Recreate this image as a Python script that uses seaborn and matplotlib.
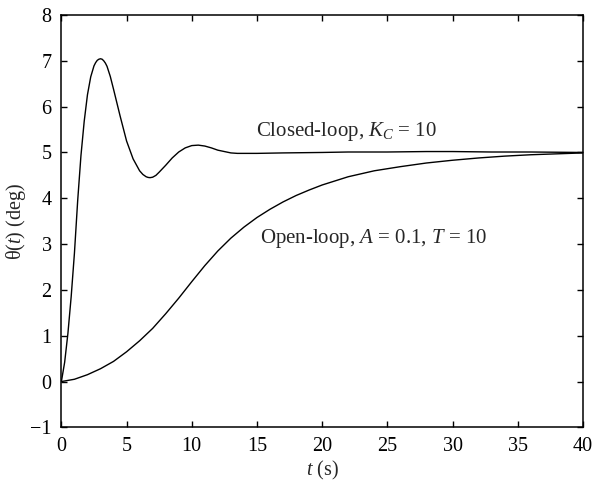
import numpy as np
import pandas as pd
import matplotlib
matplotlib.use("Agg")
import matplotlib.pyplot as plt
import seaborn as sns

# Closed-loop step response, K_C = 10
t_closed = [0, 0.25, 0.5, 0.75, 1.0, 1.25, 1.5, 1.75, 2.0, 2.25, 2.5, 2.625, 2.75,
            2.875, 3.0, 3.125, 3.25, 3.375, 3.5, 3.75, 4.0, 4.5, 5.0, 5.5, 6.0,
            6.25, 6.5, 6.65, 6.8, 7.0, 7.25, 7.5, 8.0, 8.5, 9.0, 9.5, 10.0, 10.5,
            11.0, 11.5, 12.0, 12.5, 13.0, 13.5, 14.0, 15.0, 17.0, 20.0, 22.0,
            25.0, 28.0, 30.0, 33.0, 36.0, 40.0]
theta_closed = [0, 0.42, 1.05, 1.85, 2.8, 3.95, 4.93, 5.68, 6.26, 6.65, 6.89, 6.96,
                7.01, 7.035, 7.045, 7.035, 7.0, 6.95, 6.88, 6.66, 6.38, 5.8, 5.25,
                4.86, 4.6, 4.52, 4.47, 4.455, 4.45, 4.46, 4.5, 4.57, 4.72, 4.88,
                5.01, 5.1, 5.15, 5.16, 5.14, 5.1, 5.05, 5.02, 4.99, 4.98, 4.98,
                4.98, 4.99, 5.0, 5.01, 5.01, 5.02, 5.02, 5.01, 5.01, 5.0]

# Open-loop step response, A = 0.1, T = 10
t_open = [0, 1, 2, 3, 4, 5, 6, 7, 8, 9, 10, 11, 12, 13, 14, 15, 16, 17, 18, 19,
          20, 22, 24, 26, 28, 30, 32, 34, 36, 38, 40]
theta_open = [0, 0.05, 0.15, 0.28, 0.44, 0.65, 0.89, 1.16, 1.48, 1.82, 2.18, 2.53,
              2.85, 3.13, 3.37, 3.58, 3.76, 3.92, 4.06, 4.18, 4.29, 4.47, 4.6, 4.69,
              4.77, 4.83, 4.88, 4.92, 4.95, 4.97, 4.99]

x_ticks = [0, 5, 10, 15, 20, 25, 30, 35, 40]
y_ticks = [-1, 0, 1, 2, 3, 4, 5, 6, 7, 8]

sns.set_theme(style="ticks")
plt.rcParams["font.family"] = ["Liberation Serif", "DejaVu Serif"]
plt.rcParams["mathtext.fontset"] = "custom"
plt.rcParams["mathtext.rm"] = "Liberation Serif"
plt.rcParams["mathtext.it"] = "Liberation Serif:italic"
plt.rcParams["axes.unicode_minus"] = True

closed = pd.DataFrame({"t": t_closed, "theta": theta_closed})
opened = pd.DataFrame({"t": t_open, "theta": theta_open})

fig = plt.figure(figsize=(5.96, 4.84), dpi=100)
ax = fig.add_axes([0.103, 0.117, 0.875, 0.852])

sns.lineplot(data=closed, x="t", y="theta", ax=ax, color="black", lw=1.0,
             estimator=None, sort=False)
sns.lineplot(data=opened, x="t", y="theta", ax=ax, color="black", lw=1.0,
             estimator=None, sort=False)

ax.set_xlim(0, 40)
ax.set_ylim(-1, 8)
ax.set_xticks(x_ticks)
ax.set_yticks(y_ticks)
ax.set_xticklabels([str(v) for v in x_ticks])
ax.set_yticklabels([("\u2212" + str(-v)) if v < 0 else str(v) for v in y_ticks])

for side in ["top", "right", "left", "bottom"]:
    ax.spines[side].set_visible(True)
    ax.spines[side].set_linewidth(1.1)
    ax.spines[side].set_color("black")

ax.tick_params(direction="in", length=4.5, width=1.0, top=True, right=True,
               labelsize=14.5, colors="black")
ax.tick_params(axis="x", pad=7)
ax.tick_params(axis="y", pad=7)

ax.set_xlabel("$t$ (s)", fontsize=14.5, labelpad=2)
ax.set_ylabel("\u03b8($t$) (deg)", fontsize=14.5)
ax.yaxis.set_label_coords(-0.064, 0.5)

ax.text(14.9, 5.45, "Closed-loop, $K_C$ = 10", fontsize=15, va="center", ha="left")
ax.text(15.2, 3.13, "Open-loop, $A$ = 0.1, $T$ = 10", fontsize=15, va="center", ha="left")

fig.savefig("out.png", dpi=100)
